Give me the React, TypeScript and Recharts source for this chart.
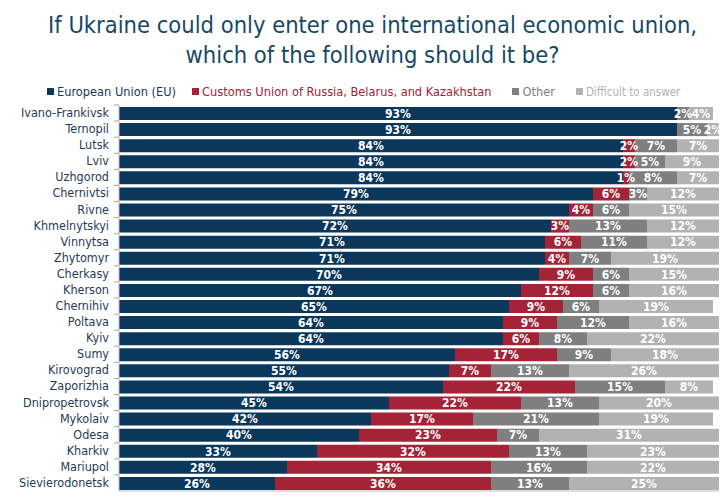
import { BarChart, Bar, XAxis, YAxis, LabelList } from 'recharts'

const REGIONS = [
  'Ivano-Frankivsk', 'Ternopil', 'Lutsk', 'Lviv', 'Uzhgorod', 'Chernivtsi', 'Rivne', 'Khmelnytskyi',
  'Vinnytsa', 'Zhytomyr', 'Cherkasy', 'Kherson', 'Chernihiv', 'Poltava', 'Kyiv', 'Sumy',
  'Kirovograd', 'Zaporizhia', 'Dnipropetrovsk', 'Mykolaiv', 'Odesa', 'Kharkiv', 'Mariupol', 'Sievierodonetsk',
]
const EU = [93, 93, 84, 84, 84, 79, 75, 72, 71, 71, 70, 67, 65, 64, 64, 56, 55, 54, 45, 42, 40, 33, 28, 26]
const CUSTOMS = [0, 0, 2, 2, 1, 6, 4, 3, 6, 4, 9, 12, 9, 9, 6, 17, 7, 22, 22, 17, 23, 32, 34, 36]
const OTHER = [2, 5, 7, 5, 8, 3, 6, 13, 11, 7, 6, 6, 6, 12, 8, 9, 13, 15, 13, 21, 7, 13, 16, 13]
const DIFFICULT = [4, 2, 7, 9, 7, 12, 15, 12, 12, 19, 15, 16, 19, 16, 22, 18, 26, 8, 20, 19, 31, 23, 22, 25]
const X_TICKS = [0, 10, 20, 30, 40, 50, 60, 70, 80, 90, 100]

const SERIES = [
  { key: 'eu', name: 'European Union (EU)', color: '#0b375a', text: '#1a3a5a' },
  { key: 'customs', name: 'Customs Union of Russia, Belarus, and Kazakhstan', color: '#a42336', text: '#a42336' },
  { key: 'other', name: 'Other', color: '#7f7f7f', text: '#7f7f7f' },
  { key: 'difficult', name: 'Difficult to answer', color: '#b2b2b2', text: '#b2b2b2' },
]

const data = REGIONS.map((region, i) => ({
  region,
  eu: EU[i],
  customs: CUSTOMS[i],
  other: OTHER[i],
  difficult: DIFFICULT[i],
}))

const FONT = '"DejaVu Sans Condensed", "DejaVu Sans", sans-serif'
const TOP = 105
const BOTTOM_AXIS = 491
const STEP = (BOTTOM_AXIS - TOP) / REGIONS.length

function RegionTick(props: any) {
  const { x, y, payload } = props
  return (
    <g>
      <line x1={x + 5} x2={x + 10} y1={y - STEP / 2} y2={y - STEP / 2} stroke="#a6a6a6" />
      <text x={x} y={y} dy={4} textAnchor="end" fontSize={12.5} fill="#1f3b57" fontFamily={FONT}>
        {payload.value}
      </text>
    </g>
  )
}

export default function App() {
  return (
    <div style={{ position: 'absolute', left: 0, top: 0, width: 720, height: 502, background: '#fff', fontFamily: FONT, overflow: 'hidden' }}>
      <div style={{ position: 'absolute', top: 10, left: 0, width: 745, textAlign: 'center', color: '#174863', fontSize: 23.5, lineHeight: '30px' }}>
        If Ukraine could only enter one international economic union,<br />which of the following should it be?
      </div>
      <div style={{ position: 'absolute', top: 84, left: 47, display: 'flex', fontSize: 12.7, whiteSpace: 'nowrap' }}>
        {SERIES.map((s, i) => (
          <span key={s.key} style={{ display: 'flex', alignItems: 'center', color: s.text, marginRight: [16, 21, 21, 0][i], fontSize: i === 3 ? 11.5 : undefined }}>
            <span style={{ display: 'inline-block', width: 7, height: 7, background: s.color, marginRight: 3 }} />
            {s.name}
          </span>
        ))}
      </div>
      <BarChart
        width={720}
        height={502}
        data={data}
        layout="vertical"
        barSize={13}
        margin={{ top: TOP, right: 1, bottom: 502 - BOTTOM_AXIS - 10, left: 0 }}
        style={{ position: 'absolute', left: 0, top: 0 }}
      >
        <XAxis
          type="number"
          domain={[0, 100]}
          ticks={X_TICKS}
          tick={false}
          height={10}
          tickSize={5}
          axisLine={{ stroke: '#bfbfbf' }}
          tickLine={{ stroke: '#a6a6a6' }}
          allowDataOverflow
        />
        <YAxis
          type="category"
          dataKey="region"
          width={119}
          interval={0}
          tickLine={false}
          tickSize={0}
          tickMargin={10}
          axisLine={{ stroke: '#bfbfbf' }}
          tick={<RegionTick />}
        />
        {SERIES.map(s => (
          <Bar key={s.key} dataKey={s.key} name={s.name} stackId="a" fill={s.color} isAnimationActive={false}>
            <LabelList
              dataKey={s.key}
              position="center"
              fill="#ffffff"
              fontSize={12}
              fontWeight="bold"
              fontFamily={FONT}
              formatter={(v: any) => (v ? `${v}%` : '')}
            />
          </Bar>
        ))}
      </BarChart>
    </div>
  )
}
